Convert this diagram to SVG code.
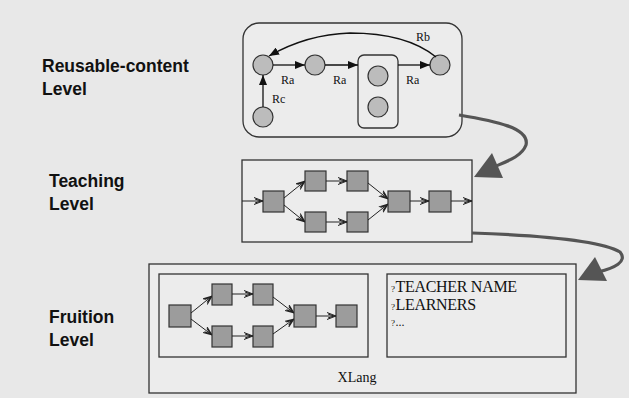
<svg xmlns="http://www.w3.org/2000/svg" width="629" height="398" viewBox="0 0 629 398">
  <style>
    .level { font-family: "Liberation Sans", Arial, sans-serif; font-weight: bold; font-size: 17.5px; fill: #111; }
    .rel { font-family: "Liberation Serif", "Times New Roman", serif; font-size: 12px; fill: #111; }
    .serif { font-family: "Liberation Serif", "Times New Roman", serif; fill: #111; }
    .box { fill: #ececec; stroke: #333; stroke-width: 1.3; }
    .circ { fill: #bcbcbc; stroke: #333; stroke-width: 1.2; }
    .sq { fill: #9c9c9c; stroke: #333; stroke-width: 1.2; }
    .rline { stroke: #111; stroke-width: 1.3; fill: none; }
    .flow { stroke: #222; stroke-width: 1; fill: none; marker-end: url(#open); }
    .big { stroke: #555; stroke-width: 3.2; fill: none; }
  </style>
  <defs>
    <marker id="solid" markerWidth="10" markerHeight="8" refX="10" refY="4" orient="auto" markerUnits="userSpaceOnUse">
      <path d="M0,0 L10,4 L0,8 Z" fill="#111"/>
    </marker>
    <marker id="open" markerWidth="9" markerHeight="8" refX="9" refY="4" orient="auto" markerUnits="userSpaceOnUse">
      <path d="M0,0.5 L9,4 L0,7.5 M1,2 L7,4 L1,6" fill="none" stroke="#222" stroke-width="1"/>
    </marker>
  </defs>

  <rect width="629" height="398" fill="#e8e8e8"/>

  <!-- level captions -->
  <g id="captions">
    <text class="level" x="42" y="72">Reusable-content</text>
    <text class="level" x="42" y="95">Level</text>
    <text class="level" x="49" y="187">Teaching</text>
    <text class="level" x="49" y="210">Level</text>
    <text class="level" x="49" y="323">Fruition</text>
    <text class="level" x="49" y="346">Level</text>
  </g>

  <!-- reusable-content level -->
  <g id="reusable">
    <rect class="box" x="243" y="23" width="219" height="114" rx="16"/>
    <rect class="box" x="358" y="55" width="40" height="73" rx="6"/>
    <g id="c1"><circle class="circ" cx="263" cy="65" r="10"/></g>
    <g id="c2"><circle class="circ" cx="315" cy="65" r="10"/></g>
    <g id="c3"><circle class="circ" cx="378" cy="76" r="10"/></g>
    <g id="c4"><circle class="circ" cx="378" cy="107" r="10"/></g>
    <g id="c5"><circle class="circ" cx="440" cy="65" r="10"/></g>
    <g id="c6"><circle class="circ" cx="263" cy="117" r="10"/></g>
  </g>

  <!-- teaching level -->
  <g id="teaching">
    <rect class="box" x="242" y="160" width="230" height="82"/>
    <g id="t1"><rect class="sq" x="263" y="191" width="21" height="21"/></g>
    <g id="t2"><rect class="sq" x="305" y="171" width="21" height="20"/></g>
    <g id="t3"><rect class="sq" x="347" y="171" width="21" height="20"/></g>
    <g id="t4"><rect class="sq" x="305" y="212" width="21" height="20"/></g>
    <g id="t5"><rect class="sq" x="347" y="212" width="21" height="20"/></g>
    <g id="t6"><rect class="sq" x="388" y="191" width="22" height="21"/></g>
    <g id="t7"><rect class="sq" x="429" y="191" width="22" height="21"/></g>
  </g>

  <!-- fruition level -->
  <g id="fruition">
    <rect class="box" x="149" y="264" width="427" height="129"/>
    <rect class="box" x="159" y="274" width="209" height="83"/>
    <rect class="box" x="387" y="274" width="179" height="83"/>
    <text class="serif" x="357" y="382" font-size="14" text-anchor="middle">XLang</text>
    <text class="serif" x="391" y="292" font-size="16"><tspan font-size="9">?</tspan><tspan dx="0.5" letter-spacing="-0.3">TEACHER NAME</tspan></text>
    <text class="serif" x="391" y="310" font-size="16"><tspan font-size="9">?</tspan><tspan dx="0.5" letter-spacing="-0.3">LEARNERS</tspan></text>
    <text class="serif" x="391" y="326" font-size="12"><tspan font-size="9">?</tspan><tspan dx="0.5">...</tspan></text>
    <g id="f1"><rect class="sq" x="169" y="305" width="22" height="22"/></g>
    <g id="f2"><rect class="sq" x="212" y="284" width="20" height="21"/></g>
    <g id="f3"><rect class="sq" x="253" y="284" width="20" height="21"/></g>
    <g id="f4"><rect class="sq" x="212" y="326" width="20" height="21"/></g>
    <g id="f5"><rect class="sq" x="253" y="326" width="20" height="21"/></g>
    <g id="f6"><rect class="sq" x="294" y="305" width="22" height="22"/></g>
    <g id="f7"><rect class="sq" x="336" y="305" width="21" height="22"/></g>
  </g>

  <!-- connectors -->
  <g id="connectors">
    <line class="rline" x1="273" y1="65" x2="305" y2="65" marker-end="url(#solid)"/>
    <line class="rline" x1="325" y1="65" x2="358" y2="65" marker-end="url(#solid)"/>
    <line class="rline" x1="398" y1="65" x2="430" y2="65" marker-end="url(#solid)"/>
    <line class="rline" x1="263" y1="107" x2="263" y2="75" marker-end="url(#solid)"/>
    <path class="rline" d="M436,57 C 415,40 385,33 350,33 C 318,34 290,44 269,56" marker-end="url(#solid)"/>
    <text class="rel" x="281" y="84">Ra</text>
    <text class="rel" x="333" y="84">Ra</text>
    <text class="rel" x="406" y="84">Ra</text>
    <text class="rel" x="272" y="103">Rc</text>
    <text class="rel" x="416" y="41">Rb</text>

    <line class="flow" x1="242" y1="201" x2="263" y2="201"/>
    <line class="flow" x1="284" y1="198" x2="305" y2="181"/>
    <line class="flow" x1="284" y1="205" x2="305" y2="222"/>
    <line class="flow" x1="326" y1="181" x2="347" y2="181"/>
    <line class="flow" x1="326" y1="222" x2="347" y2="222"/>
    <line class="flow" x1="368" y1="183" x2="388" y2="199"/>
    <line class="flow" x1="368" y1="220" x2="388" y2="204"/>
    <line class="flow" x1="410" y1="201" x2="429" y2="201"/>
    <line class="flow" x1="451" y1="201" x2="472" y2="201"/>

    <line class="flow" x1="191" y1="313" x2="212" y2="296"/>
    <line class="flow" x1="191" y1="319" x2="212" y2="335"/>
    <line class="flow" x1="232" y1="294" x2="253" y2="294"/>
    <line class="flow" x1="232" y1="336" x2="253" y2="336"/>
    <line class="flow" x1="273" y1="297" x2="294" y2="313"/>
    <line class="flow" x1="273" y1="334" x2="294" y2="319"/>
    <line class="flow" x1="316" y1="316" x2="336" y2="316"/>

    <path class="big" d="M459,115 C 495,121 530,128 526,145 C 522,156 508,161 496,166"/>
    <polygon points="474,177 492,153 503,178" fill="#555"/>
    <path class="big" d="M472,233 C 530,235 600,240 620,252 C 628,262 614,268 598,272"/>
    <polygon points="578,280 595,257 607,281" fill="#555"/>
  </g>
</svg>
